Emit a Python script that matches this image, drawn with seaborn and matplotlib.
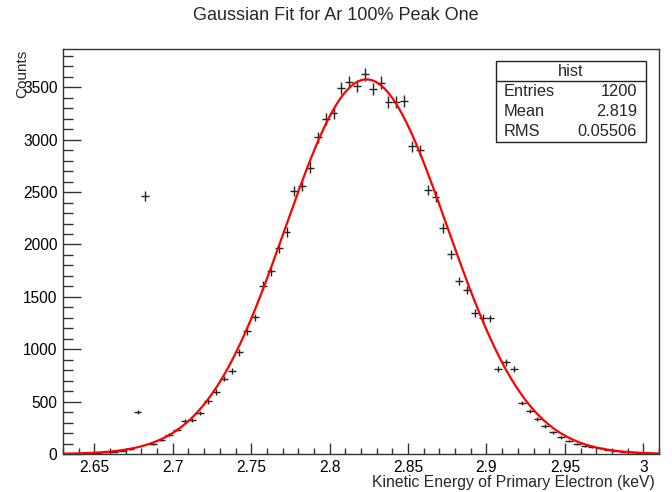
import numpy as np
import pandas as pd
import matplotlib
matplotlib.use("Agg")
import matplotlib.pyplot as plt
from matplotlib.patches import Rectangle
from matplotlib.lines import Line2D
from matplotlib.ticker import MultipleLocator, FixedLocator
import seaborn as sns

# ---------------- data ----------------
bin_low = 2.63          # lower edge of histogram
bin_width = 0.005       # histogram bin width
counts = [2, 3, 5, 8, 12, 16, 22, 30, 45, 403,
          2465, 92, 135, 186, 230, 312, 321, 392, 502, 592,
          720, 795, 970, 1170, 1303, 1608, 1745, 1962, 2120, 2511,
          2559, 2734, 3023, 3195, 3252, 3492, 3552, 3515, 3624, 3487,
          3545, 3364, 3357, 3372, 2937, 2898, 2521, 2457, 2155, 1907,
          1653, 1567, 1343, 1300, 1294, 813, 874, 813, 485, 413,
          334, 267, 207, 159, 127, 98, 79, 64, 54, 41,
          30, 22, 15, 10, 6, 4]
fit_amp = 3576.0
fit_mean = 2.8235
fit_sigma = 0.0515
x_range = (2.63, 3.01)
y_range = (0, 3866)
x_ticks = [2.65, 2.7, 2.75, 2.8, 2.85, 2.9, 2.95, 3.0]
x_tick_labels = ["2.65", "2.7", "2.75", "2.8", "2.85", "2.9", "2.95", "3"]
y_ticks = [0, 500, 1000, 1500, 2000, 2500, 3000, 3500]
y_tick_labels = ["0", "500", "1000", "1500", "2000", "2500", "3000", "3500"]
stats_labels = ["Entries", "Mean", "RMS"]
stats_values = ["1200", "2.819", "0.05506"]
title = "Gaussian Fit for Ar 100% Peak One"
xlabel = "Kinetic Energy of Primary Electron (keV)"
ylabel = "Counts"

# ---------------- build frames ----------------
counts = np.array(counts, dtype=float)
centers = bin_low + bin_width * (np.arange(len(counts)) + 0.5)
hist = pd.DataFrame({"x": centers, "y": counts, "err": np.sqrt(counts)})
xf = np.linspace(x_range[0], x_range[1], 600)
fit = pd.DataFrame({"x": xf,
                    "y": fit_amp * np.exp(-0.5 * ((xf - fit_mean) / fit_sigma) ** 2)})

# ---------------- style ----------------
sns.set_style("ticks")
plt.rcParams["font.family"] = ["Liberation Sans", "DejaVu Sans"]
plt.rcParams["axes.linewidth"] = 1.0

W, H = 672, 492
fig = plt.figure(figsize=(W / 100, H / 100), dpi=100)
ax = fig.add_axes([63 / W, 1 - 454 / H, (659 - 63) / W, (454 - 49) / H])

# histogram points with error bars
ax.errorbar(hist["x"], hist["y"], xerr=bin_width / 2, yerr=hist["err"],
            fmt="none", ecolor="#222222", elinewidth=1.0, capsize=0, zorder=2)
# gaussian fit
sns.lineplot(data=fit, x="x", y="y", ax=ax, color="#ff0000", lw=1.6, zorder=3)

ax.set_xlim(*x_range)
ax.set_ylim(*y_range)
ax.xaxis.set_major_locator(FixedLocator(x_ticks))
ax.set_xticklabels(x_tick_labels)
ax.xaxis.set_minor_locator(MultipleLocator(0.01))
ax.yaxis.set_major_locator(FixedLocator(y_ticks))
ax.set_yticklabels(y_tick_labels)
ax.yaxis.set_minor_locator(MultipleLocator(100))

ax.tick_params(axis="x", which="major", direction="in", length=7.7, width=1.0,
               labelsize=11.2, pad=4, colors="#333333", labelcolor="black")
ax.tick_params(axis="x", which="minor", direction="in", length=4.1, width=1.0,
               colors="#333333")
ax.tick_params(axis="y", which="major", direction="in", length=13, width=1.0,
               labelsize=11.2, pad=4, colors="#333333", labelcolor="black")
ax.tick_params(axis="y", which="minor", direction="in", length=7, width=1.0,
               colors="#333333")
for s in ax.spines.values():
    s.set_visible(True)
    s.set_color("#333333")
    s.set_linewidth(1.0)

ax.set_xlabel("")
ax.set_ylabel("")
fig.text(655 / W, 1 - 482 / H, xlabel, ha="right", va="center", fontsize=11.3)
fig.text(22 / W, 1 - 50 / H, ylabel, ha="center", va="top", rotation=90, fontsize=11)
fig.text(336 / W, 1 - 16 / H, title, ha="center", va="center", fontsize=13)

# stats box
bx0, bx1, by0, by1, bhead = 496, 646, 61, 142, 81
fig.patches.append(Rectangle((bx0 / W, 1 - by1 / H), (bx1 - bx0) / W, (by1 - by0) / H,
                             transform=fig.transFigure, facecolor="white",
                             edgecolor="#222222", lw=1.0, zorder=5))
fig.lines.append(Line2D([bx0 / W, bx1 / W], [1 - bhead / H, 1 - bhead / H],
                        transform=fig.transFigure, color="#222222", lw=1.0, zorder=6))
fig.text((bx0 + bx1) / 2 / W, 1 - 71 / H, "hist", ha="center", va="center",
         fontsize=11.8, zorder=7)
for i, (lab, val) in enumerate(zip(stats_labels, stats_values)):
    yy = 1 - (92 + 20 * i) / H
    fig.text(504 / W, yy, lab, ha="left", va="center", fontsize=11.8, zorder=7)
    fig.text(637 / W, yy, val, ha="right", va="center", fontsize=11.8, zorder=7)

fig.savefig("out.png", dpi=100, facecolor="white")
